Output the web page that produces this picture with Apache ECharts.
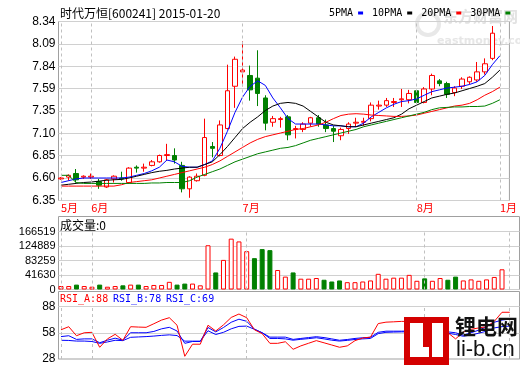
<!DOCTYPE html>
<html><head><meta charset="utf-8">
<script src="https://cdn.jsdelivr.net/npm/echarts@6/dist/echarts.min.js"></script>
<style>html,body{margin:0;padding:0;background:#fff}#c{width:520px;height:365px}</style>
</head><body><div id="c"></div>
<script>
// ---------- data ----------
const titleText = '时代万恒[600241] 2015-01-20';
const openP  = [6.59,6.61,6.65,6.61,6.61,6.56,6.50,6.59,6.60,6.55,6.72,6.71,6.74,6.78,6.85,6.85,6.74,6.48,6.57,6.63,6.95,6.85,7.15,7.62,7.78,7.74,7.71,7.49,7.22,7.25,7.28,7.14,7.14,7.21,7.27,7.19,7.15,7.07,7.15,7.21,7.22,7.26,7.40,7.41,7.44,7.47,7.47,7.57,7.44,7.59,7.68,7.65,7.55,7.62,7.67,7.69,7.78,7.93];
const closeP = [6.60,6.63,6.58,6.62,6.62,6.52,6.58,6.62,6.59,6.71,6.71,6.72,6.78,6.85,6.86,6.80,6.48,6.61,6.62,7.05,6.93,7.19,7.57,7.92,7.80,7.58,7.54,7.21,7.26,7.26,7.08,7.15,7.20,7.27,7.20,7.15,7.12,7.14,7.20,7.22,7.23,7.41,7.41,7.46,7.45,7.48,7.54,7.44,7.59,7.74,7.65,7.53,7.60,7.70,7.72,7.78,7.87,8.21];
const lowP   = [6.58,6.57,6.55,6.59,6.59,6.48,6.49,6.55,6.57,6.54,6.66,6.67,6.73,6.77,6.79,6.76,6.44,6.38,6.56,6.62,6.83,6.84,7.14,7.38,7.62,7.46,7.40,7.13,7.17,7.16,7.02,7.04,7.11,7.17,7.17,7.11,7.00,7.02,7.09,7.17,7.18,7.23,7.36,7.39,7.39,7.39,7.43,7.44,7.43,7.52,7.62,7.49,7.51,7.59,7.64,7.67,7.75,7.91];
const highP  = [6.61,6.64,6.70,6.63,6.65,6.59,6.59,6.63,6.67,6.72,6.74,6.76,6.80,6.86,6.98,6.93,6.78,6.62,6.65,7.26,7.00,7.24,7.86,7.95,8.12,7.85,8.02,7.52,7.29,7.28,7.30,7.18,7.22,7.28,7.30,7.25,7.18,7.16,7.22,7.27,7.27,7.44,7.46,7.49,7.49,7.59,7.58,7.58,7.61,7.76,7.70,7.67,7.62,7.72,7.73,7.89,7.93,8.29];
const volume = [10000,10000,14000,10000,8000,14000,8000,10000,12000,14000,14000,10000,13000,13000,22000,14000,17000,17000,12000,127000,49000,85000,146000,138000,110000,90000,116000,113000,56000,37000,49000,31000,31000,33000,28000,23000,26000,21000,21000,23000,26000,45000,31000,34000,34000,42000,25000,32000,25000,33000,28000,37000,26000,29000,25000,29000,36000,58000];
const todayVol = 0;

const ma5  = [6.55,6.57,6.59,6.60,6.60,6.60,6.60,6.60,6.60,6.61,6.63,6.65,6.68,6.72,6.80,6.78,6.73,6.72,6.72,6.75,6.79,6.93,7.12,7.33,7.50,7.62,7.68,7.63,7.49,7.38,7.26,7.20,7.20,7.20,7.20,7.19,7.18,7.18,7.17,7.17,7.21,7.28,7.33,7.38,7.42,7.45,7.46,7.48,7.52,7.56,7.58,7.60,7.61,7.62,7.64,7.67,7.74,7.86,7.96];
const ma10 = [6.52,6.53,6.54,6.55,6.555,6.565,6.575,6.58,6.585,6.60,6.62,6.64,6.66,6.675,6.685,6.70,6.71,6.72,6.72,6.75,6.78,6.86,6.95,7.05,7.15,7.22,7.28,7.35,7.40,7.43,7.44,7.43,7.40,7.34,7.28,7.22,7.19,7.18,7.17,7.17,7.19,7.21,7.23,7.25,7.27,7.31,7.37,7.41,7.45,7.49,7.51,7.53,7.545,7.57,7.595,7.62,7.65,7.72,7.80];
const ma20 = [6.51,6.51,6.51,6.51,6.51,6.51,6.51,6.51,6.525,6.55,6.56,6.57,6.58,6.60,6.62,6.64,6.66,6.68,6.70,6.72,6.75,6.79,6.84,6.89,6.94,6.99,7.03,7.06,7.08,7.10,7.12,7.14,7.15,7.17,7.19,7.22,7.26,7.295,7.31,7.315,7.31,7.30,7.295,7.29,7.285,7.285,7.29,7.30,7.32,7.34,7.36,7.38,7.40,7.41,7.43,7.47,7.52,7.56,7.61];
const ma30 = [6.63,6.63,6.55,6.54,6.54,6.54,6.54,6.54,6.54,6.54,6.54,6.54,6.545,6.545,6.55,6.55,6.55,6.57,6.61,6.64,6.67,6.70,6.74,6.78,6.81,6.84,6.87,6.89,6.91,6.93,6.94,6.96,6.99,7.02,7.04,7.06,7.08,7.10,7.12,7.14,7.17,7.19,7.21,7.23,7.25,7.27,7.29,7.31,7.33,7.36,7.38,7.385,7.39,7.39,7.395,7.395,7.40,7.43,7.47];

const rsiA = [61.4,64.9,54.6,58.0,58.5,41.4,51.0,56.2,49.4,64.9,64.5,64.2,68.3,72.5,75.2,66.6,31.1,44.9,44.9,66.6,60.0,67.0,75.5,79.4,75.2,61.4,57.0,45.9,45.9,47.7,39.1,43.0,46.0,49.0,46.5,44.0,41.4,43.0,49.0,52.0,53.0,68.5,70.1,70.5,71.0,71.0,66.0,58.0,62.0,66.0,58.0,51.0,58.7,62.0,63.5,64.9,71.0,81.4,81.4];
const rsiB = [53.6,54.6,50.4,51.0,51.0,46.6,49.5,51.8,49.5,58.0,58.0,58.0,59.5,62.5,64.2,60.0,45.9,48.0,48.0,64.0,59.0,64.0,70.0,73.5,71.1,62.0,58.0,53.0,53.0,53.0,50.4,51.5,52.5,53.5,52.5,51.0,49.4,50.3,51.5,52.3,52.8,58.5,59.8,59.8,59.8,60.0,59.0,56.0,58.0,61.0,59.0,58.0,55.2,58.0,61.0,64.9,70.0,72.5,73.5];
const rsiC = [49.4,49.2,48.5,48.5,48.0,45.9,47.5,49.4,49.0,52.8,53.2,53.6,54.2,55.0,55.6,54.8,48.4,48.4,48.4,60.3,56.0,58.5,62.5,65.3,65.6,62.0,58.0,51.5,51.5,51.0,49.5,50.5,51.3,52.3,51.0,49.5,48.5,49.3,50.3,51.0,51.5,57.0,58.5,58.8,59.0,59.2,58.5,56.0,57.0,59.0,57.5,56.0,54.0,55.5,57.5,59.8,63.5,65.0,65.6];
const rsiLast = [88, 78, 69];

const monthIdx = [0, 4, 24, 47, 58];
const monthLabels = ['5月', '6月', '7月', '8月', '1月'];
const priceTicks = ['6.35','6.60','6.85','7.10','7.35','7.59','7.84','8.09','8.34'];
const volTicks = ['0','41630','83259','124889','166519'];
const rsiTicks = ['28','58','88'];

// ---------- layout ----------
const GL = 58.5, GW = 461;
const X0 = 61, STEP = 7.737;
const cMin = -(X0 - GL) / STEP, cMax = cMin + GW / STEP;
const P_MIN = 6.35, P_MAX = 8.34, P_INT = (P_MAX - P_MIN) / 8;
const V_MAX = 166519, V_INT = V_MAX / 4;
const R_MIN = 28, R_MAX = 88, R_INT = 30;

const RED = '#ff0000', GREEN = '#008000', BLUE = '#0000ff';
const FRAME = '#a0a0a0', GRIDC = '#d0d0d0';
const numFont = '"Liberation Sans", Arial, sans-serif';
const monoFont = '"DejaVu Sans Mono", monospace';
const cjkFont = '"Noto Sans CJK SC", sans-serif';

const chart = echarts.init(document.getElementById('c'), null, {renderer: 'canvas'});

const gridBase = {left: GL, width: GW, show: true, borderColor: FRAME, borderWidth: 1, backgroundColor: 'transparent'};
function xAx(grid, extra) {
  return Object.assign({type: 'value', gridIndex: grid, min: cMin, max: cMax, show: false,
    splitLine: {show: false}}, extra || {});
}
const dashML = {
  silent: true, symbol: 'none', label: {show: false},
  lineStyle: {color: '#c0c0c0', type: [3, 3], width: 1},
  emphasis: {disabled: true},
  data: monthIdx.map(v => ({xAxis: v}))
};
function guide(xi, yi, yv) {
  return {type: 'scatter', xAxisIndex: xi, yAxisIndex: yi, symbolSize: 0, silent: true, z: 1,
    data: monthIdx.map(v => [v, yv]), markLine: dashML};
}
function maLine(name, arr, color) {
  return {type: 'line', name: name, xAxisIndex: 0, yAxisIndex: 0, symbol: 'none', showSymbol: false,
    data: arr.map((v, i) => [i, v]), lineStyle: {color: color, width: 1}, itemStyle: {color: color}, z: 4,
    emphasis: {disabled: true}};
}
function rsiLine(arr, color) {
  return {type: 'line', xAxisIndex: 2, yAxisIndex: 2, symbol: 'none', showSymbol: false,
    data: arr.map((v, i) => [i, v]), lineStyle: {color: color, width: 1}, itemStyle: {color: color}, z: 4,
    emphasis: {disabled: true}};
}

const option = {
  animation: false,
  grid: [
    Object.assign({top: 21.5, height: 179}, gridBase),
    Object.assign({top: 231.5, height: 58}, gridBase),
    Object.assign({top: 306.5, height: 58}, gridBase)
  ],
  legend: {
    data: ['5PMA', '10PMA', '20PMA', '30PMA'], left: 329, top: 8, width: 191, padding: 0, itemGap: 9,
    itemWidth: 5, itemHeight: 3, icon: 'rect', align: 'right', selectedMode: false, orient: 'horizontal',
    textStyle: {fontFamily: monoFont, fontSize: 10, color: '#000'}
  },
  xAxis: [
    xAx(0, {show: true, axisLine: {show: false},
      axisTick: {show: false, customValues: monthIdx},
      axisLabel: {show: true, customValues: monthIdx, color: RED, fontSize: 11, fontFamily: cjkFont,
        align: 'left', margin: 2,
        formatter: v => monthLabels[monthIdx.indexOf(Math.round(v))] || ''}}),
    xAx(1),
    xAx(2)
  ],
  yAxis: [
    {type: 'value', gridIndex: 0, min: P_MIN, max: P_MAX, interval: P_INT,
      axisLine: {show: false}, axisTick: {show: false},
      splitLine: {lineStyle: {color: GRIDC}},
      axisLabel: {color: '#000', fontSize: 12, fontFamily: numFont, margin: 3,
        formatter: v => priceTicks[Math.round((v - P_MIN) / P_INT)] || ''}},
    {type: 'value', gridIndex: 1, min: 0, max: V_MAX, interval: V_INT,
      axisLine: {show: false}, axisTick: {show: false},
      splitLine: {lineStyle: {color: GRIDC}},
      axisLabel: {color: '#000', fontSize: 11, fontFamily: numFont, margin: 3,
        formatter: v => volTicks[Math.round(v / V_INT)] || ''}},
    {type: 'value', gridIndex: 2, min: R_MIN, max: R_MAX, interval: R_INT,
      axisLine: {show: false}, axisTick: {show: false},
      splitLine: {lineStyle: {color: GRIDC}},
      axisLabel: {color: '#000', fontSize: 12, fontFamily: numFont, margin: 3,
        formatter: v => rsiTicks[Math.round((v - R_MIN) / R_INT)] || ''}}
  ],
  series: [
    guide(0, 0, 7),
    guide(1, 1, 1000),
    guide(2, 2, 58),
    {type: 'candlestick', xAxisIndex: 0, yAxisIndex: 0, barWidth: 5, z: 3,
      encode: {x: 0, y: [1, 2, 3, 4]},
      data: openP.map((o, i) => [i, o, closeP[i], lowP[i], highP[i]]),
      itemStyle: {color: '#ffffff', color0: GREEN, borderColor: RED, borderColor0: GREEN, borderWidth: 1},
      emphasis: {disabled: true}},
    maLine('5PMA', ma5, BLUE),
    maLine('10PMA', ma10, '#000000'),
    maLine('20PMA', ma20, RED),
    maLine('30PMA', ma30, GREEN),
    {type: 'bar', xAxisIndex: 1, yAxisIndex: 1, barWidth: 5, z: 3,
      data: volume.map((v, i) => {
        const up = closeP[i] >= openP[i];
        return {value: [i, v], itemStyle: up
          ? {color: '#ffffff', borderColor: RED, borderWidth: 1}
          : {color: GREEN, borderColor: GREEN, borderWidth: 1}};
      }),
      emphasis: {disabled: true}},
    rsiLine(rsiC, BLUE),
    rsiLine(rsiB, BLUE),
    rsiLine(rsiA, RED)
  ],
  graphic: [
    // eastmoney watermark
    {type: 'text', x: 443, y: 9, z: 0, silent: true,
      style: {text: '东方财富网', font: 'bold 15px "Noto Sans CJK SC"', fill: '#e2e2e2'}},
    {type: 'text', x: 437, y: 36, z: 0, silent: true,
      style: {text: 'eastmoney.com', font: 'bold 11px "DejaVu Sans"', fill: '#e6e6e6'}},
    {type: 'circle', shape: {cx: 428, cy: 24, r: 11}, z: 0, silent: true,
      style: {fill: 'none', stroke: '#e8e8e8', lineWidth: 4}},
    // titles
    {type: 'text', x: 60, y: 7, silent: true,
      style: {text: titleText, font: '12px ' + cjkFont, fill: '#000'}},
    {type: 'rect', silent: true, shape: {x: 58.5, y: 216.5, width: 461, height: 15},
      style: {fill: 'none', stroke: FRAME, lineWidth: 1}},
    {type: 'text', x: 60, y: 219, silent: true,
      style: {text: '成交量:' + todayVol, font: '12px ' + cjkFont, fill: '#000'}},
    {type: 'rect', silent: true, shape: {x: 58.5, y: 291.5, width: 461, height: 15},
      style: {fill: 'none', stroke: FRAME, lineWidth: 1}},
    {type: 'text', x: 60, y: 294, silent: true,
      style: {text: 'RSI_A:' + rsiLast[0], font: '10px ' + monoFont, fill: RED}},
    {type: 'text', x: 113, y: 294, silent: true,
      style: {text: 'RSI_B:' + rsiLast[1], font: '10px ' + monoFont, fill: BLUE}},
    {type: 'text', x: 166, y: 294, silent: true,
      style: {text: 'RSI_C:' + rsiLast[2], font: '10px ' + monoFont, fill: BLUE}},
    // li-b.cn watermark
    {type: 'rect', z: 100, silent: true, shape: {x: 404, y: 317, width: 45, height: 48}, style: {fill: '#d40000'}},
    {type: 'rect', z: 101, silent: true, shape: {x: 410, y: 323, width: 13, height: 34}, style: {fill: '#ffffff'}},
    {type: 'rect', z: 101, silent: true, shape: {x: 410, y: 347, width: 19, height: 10}, style: {fill: '#ffffff'}},
    {type: 'rect', z: 101, silent: true, shape: {x: 432, y: 323, width: 11, height: 34}, style: {fill: '#ffffff'}},
    {type: 'text', z: 100, x: 455, y: 316, silent: true,
      style: {text: '锂电网', font: 'bold 21px "Noto Sans CJK SC"', fill: '#111'}},
    {type: 'text', z: 100, x: 456, y: 339, silent: true,
      style: {text: 'li-b.cn', font: '22px "Liberation Sans", Arial', fill: '#111'}}
  ]
};
chart.setOption(option);
</script>
</body></html>
